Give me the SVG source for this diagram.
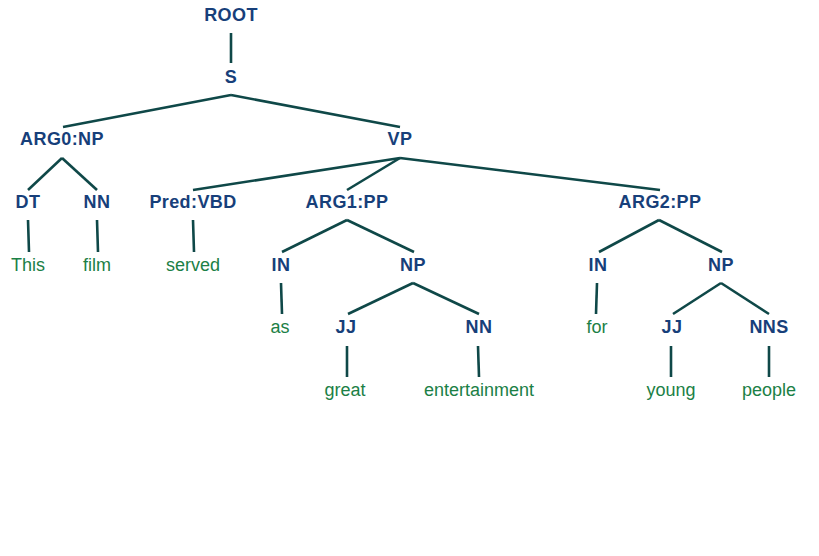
<svg xmlns="http://www.w3.org/2000/svg" width="819" height="556" viewBox="0 0 819 556">
<style>
.l{font-family:"Liberation Sans",Arial,sans-serif;font-size:18px;font-weight:bold;fill:#173f7a;text-anchor:middle;letter-spacing:0.4px}
.w{font-family:"Liberation Sans",Arial,sans-serif;font-size:18px;fill:#1b8046;text-anchor:middle}
.e line{stroke:#0f4848;stroke-width:2.6;stroke-linecap:butt}
</style>
<rect width="819" height="556" fill="#fff"/>
<g class="e" id="edges">
<line x1="231" y1="33" x2="231" y2="63"/>
<line x1="231" y1="95" x2="63" y2="127"/>
<line x1="231" y1="95" x2="400" y2="127"/>
<line x1="62" y1="158" x2="28" y2="190"/>
<line x1="62" y1="158" x2="97" y2="190"/>
<line x1="28" y1="220" x2="29" y2="252"/>
<line x1="97" y1="220" x2="98" y2="252"/>
<line x1="400" y1="158" x2="193" y2="190"/>
<line x1="400" y1="158" x2="347" y2="190"/>
<line x1="400" y1="158" x2="660" y2="190"/>
<line x1="193" y1="220" x2="194" y2="252"/>
<line x1="347" y1="220" x2="282" y2="252"/>
<line x1="347" y1="220" x2="414" y2="252"/>
<line x1="281" y1="283" x2="282" y2="314"/>
<line x1="413" y1="283" x2="348" y2="314"/>
<line x1="413" y1="283" x2="479" y2="314"/>
<line x1="347" y1="346" x2="347" y2="377"/>
<line x1="478" y1="346" x2="479" y2="377"/>
<line x1="659" y1="220" x2="599" y2="252"/>
<line x1="659" y1="220" x2="722" y2="252"/>
<line x1="597" y1="283" x2="596" y2="314"/>
<line x1="721" y1="283" x2="673" y2="314"/>
<line x1="721" y1="283" x2="769" y2="314"/>
<line x1="671" y1="346" x2="671" y2="377"/>
<line x1="769" y1="346" x2="769" y2="377"/>
</g>
<g id="n-root"><text class="l" x="231" y="21">ROOT</text></g>
<g id="n-s"><text class="l" x="231" y="83">S</text></g>
<g id="n-arg0"><text class="l" x="62" y="145">ARG0:NP</text></g>
<g id="n-vp"><text class="l" x="400" y="145">VP</text></g>
<g id="n-dt"><text class="l" x="28" y="208">DT</text></g>
<g id="n-nn1"><text class="l" x="97" y="208">NN</text></g>
<g id="n-pred"><text class="l" x="193" y="208">Pred:VBD</text></g>
<g id="n-arg1"><text class="l" x="347" y="208">ARG1:PP</text></g>
<g id="n-arg2"><text class="l" x="660" y="208">ARG2:PP</text></g>
<g id="w-this"><text class="w" x="28" y="271">This</text></g>
<g id="w-film"><text class="w" x="97" y="271">film</text></g>
<g id="w-served"><text class="w" x="193" y="271">served</text></g>
<g id="n-in1"><text class="l" x="281" y="271">IN</text></g>
<g id="n-np1"><text class="l" x="413" y="271">NP</text></g>
<g id="n-in2"><text class="l" x="598" y="271">IN</text></g>
<g id="n-np2"><text class="l" x="721" y="271">NP</text></g>
<g id="w-as"><text class="w" x="280" y="333">as</text></g>
<g id="n-jj1"><text class="l" x="346" y="333">JJ</text></g>
<g id="n-nn2"><text class="l" x="479" y="333">NN</text></g>
<g id="w-for"><text class="w" x="597" y="333">for</text></g>
<g id="n-jj2"><text class="l" x="672" y="333">JJ</text></g>
<g id="n-nns"><text class="l" x="769" y="333">NNS</text></g>
<g id="w-great"><text class="w" x="345" y="396">great</text></g>
<g id="w-ent"><text class="w" x="479" y="396">entertainment</text></g>
<g id="w-young"><text class="w" x="671" y="396">young</text></g>
<g id="w-people"><text class="w" x="769" y="396">people</text></g>
</svg>
